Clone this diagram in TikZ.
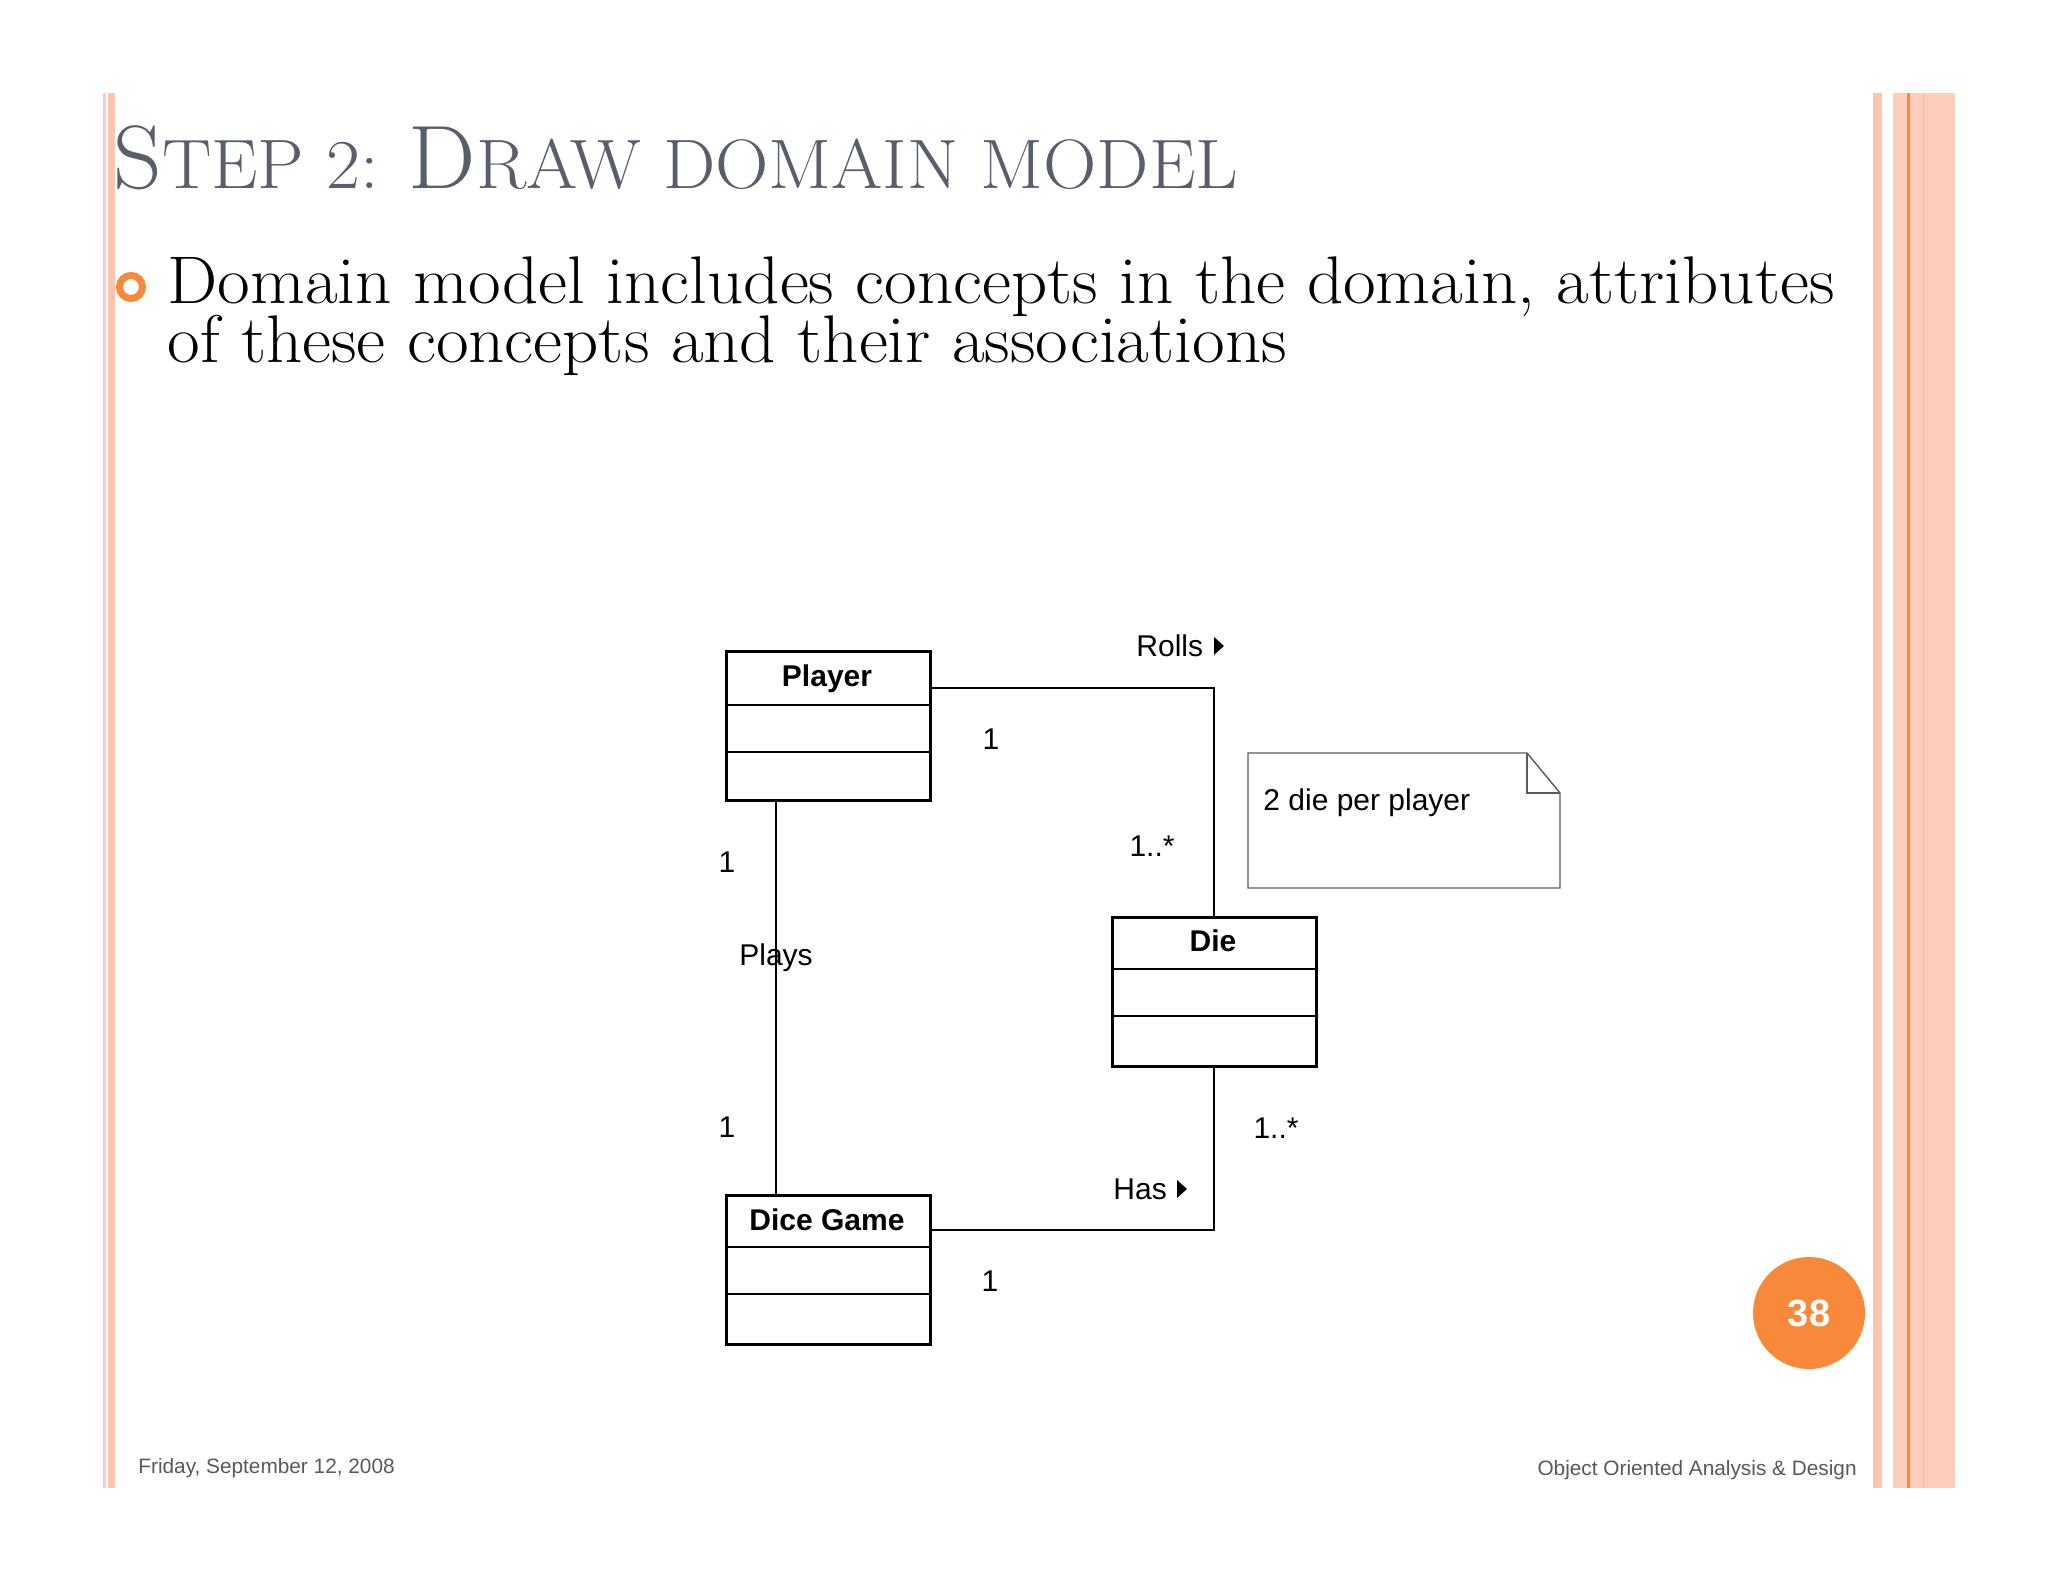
\documentclass[tikz,border=0pt]{standalone}
\usepackage{fontspec}
\newfontfamily\arial{Liberation Sans}
\usetikzlibrary{calc}
\definecolor{salmon}{RGB}{253,196,174}
\definecolor{salmonlt}{RGB}{253,206,188}
\definecolor{orangeA}{RGB}{248,136,58}
\definecolor{titlegray}{RGB}{88,94,108}
\definecolor{footgray}{RGB}{89,89,89}
\definecolor{notegray}{RGB}{90,90,90}
\begin{document}
\begin{tikzpicture}[x=0.5pt,y=-0.5pt,
  classbox/.style={draw, line width=1.4pt, minimum width=102pt, minimum height=74.5pt, inner sep=0pt, anchor=north west},
  classname/.style={font=\arial\bfseries\fontsize{15}{15}\selectfont, inner sep=0pt},
  divider/.style={line width=1.4pt},
  assoc/.style={line width=1pt},
  lbl/.style={font=\arial\fontsize{15}{15}\selectfont, inner sep=0pt},
  foot/.style={font=\arial\fontsize{10.4}{12}\selectfont, text=footgray, inner sep=0pt},
  body/.style={anchor=base west, inner sep=0pt, font=\fontsize{33.7}{30}\selectfont\addfontfeatures{FakeBold=1.5}}]
\path[use as bounding box, fill=white] (0,0) rectangle (2048,1582);
% side borders
\fill[salmonlt] (103,93) rectangle (106,1488);
\fill[salmon] (108,93) rectangle (115,1488);
\fill[salmon] (1873,93) rectangle (1882,1488);
\fill[salmonlt] (1893,93) rectangle (1955,1488);
\fill[orangeA] (1907,93) rectangle (1910,1488);
\fill[salmon] (1922,93) rectangle (1925,1488);
% title
\node[anchor=base west, inner sep=0pt, text=titlegray] (title) at (113,189)
  {\scalebox{1.057}[1]{\fontsize{45}{45}\selectfont\addfontfeatures{FakeBold=2}S\fontsize{35}{35}\selectfont\addfontfeatures{FakeBold=2}TEP 2: \fontsize{45}{45}\selectfont\addfontfeatures{FakeBold=2}D\fontsize{35}{35}\selectfont\addfontfeatures{FakeBold=2}RAW DOMAIN MODEL}};
% bullet
\draw[orangeA, line width=3.5pt] (131,287) circle[radius=5.75pt];
\node[body] (line1) at (167,304)
  {\scalebox{1.054}[1]{Domain model includes concepts in the domain, attributes}};
\node[body] (line2) at (167,363)
  {\scalebox{1.054}[1]{of these concepts and their associations}};
% classes
\node[classbox] (player) at (725,650) {};
\node[classname] (playername) at (827,679) {Player};
\draw[divider] ($(player.north west)+(0,55)$) -- ($(player.north east)+(0,55)$);
\draw[divider] ($(player.north west)+(0,102)$) -- ($(player.north east)+(0,102)$);
\node[classbox] (die) at (1111,916) {};
\node[classname] (diename) at (1213,941) {Die};
\draw[divider] ($(die.north west)+(0,53)$) -- ($(die.north east)+(0,53)$);
\draw[divider] ($(die.north west)+(0,100)$) -- ($(die.north east)+(0,100)$);
\node[classbox] (game) at (725,1194) {};
\node[classname] (gamename) at (827,1220) {Dice Game};
\draw[divider] ($(game.north west)+(0,53)$) -- ($(game.north east)+(0,53)$);
\draw[divider] ($(game.north west)+(0,100)$) -- ($(game.north east)+(0,100)$);
% associations
\draw[assoc] ($(player.north east)+(0,38)$) -| (die.north);
\draw[assoc] (die.south) |- ($(game.north east)+(0,36)$);
\draw[assoc] ($(player.south west)+(51,0)$) -- ($(game.north west)+(51,0)$);
% note
\draw[notegray, line width=0.7pt] (1248,753) -- (1527,753) -- (1560,793) -- (1560,888) -- (1248,888) -- cycle;
\draw[notegray, line width=0.7pt] (1527,753) -- (1527,793) -- (1560,793);
\node[lbl, anchor=west] (notetext) at (1263,803) {2 die per player};
% labels
\node[lbl, anchor=west] (rolls) at (1136,646) {Rolls};
\fill (1214,637) -- (1224,646) -- (1214,655) -- cycle;
\node[lbl, anchor=west] (has) at (1113,1189) {Has};
\fill (1177,1180) -- (1187,1189) -- (1177,1198) -- cycle;
\node[lbl] (m1) at (991,739) {1};
\node[lbl] (m2) at (1152,846) {1..*};
\node[lbl] (m3) at (727,862) {1};
\node[lbl] (plays) at (776,958) {Plays};
\node[lbl] (m4) at (727,1127) {1};
\node[lbl] (m5) at (1276,1128) {1..*};
\node[lbl] (m6) at (990,1281) {1};
% page number
\node[circle, fill=orangeA, minimum size=56pt, inner sep=0pt, text=white, font=\arial\bfseries\fontsize{19}{19}\selectfont] (page) at (1809,1313) {38};
% footer
\node[foot, anchor=west] (date) at (138,1468) {Friday, September 12, 2008};
\node[foot, anchor=east] (course) at (1857,1470) {Object Oriented Analysis \& Design};
\end{tikzpicture}
\end{document}
